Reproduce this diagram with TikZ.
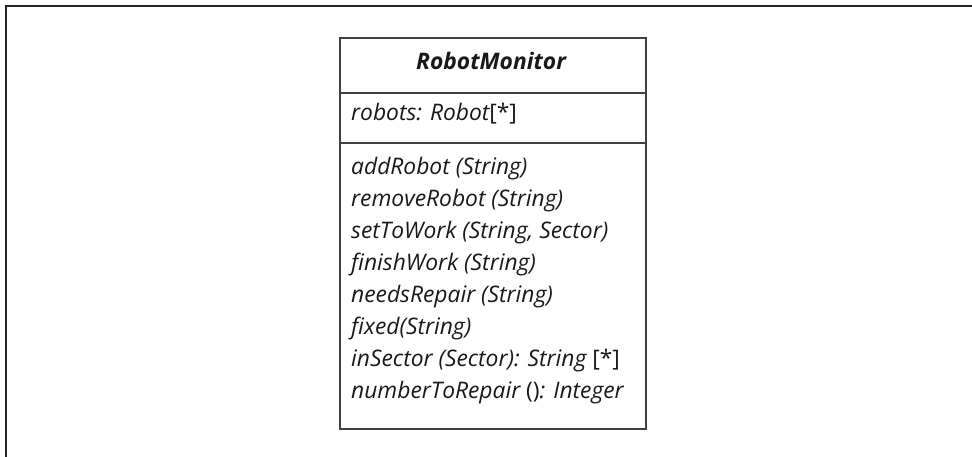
\documentclass[tikz,border=0pt]{standalone}
\usepackage{fontspec}
\setmainfont{Open Sans}
\begin{document}
\begin{tikzpicture}[x=1pt,y=1pt,
  frame/.style={line width=1.5pt,draw=black!85},
  classline/.style={line width=1.3pt,draw=black!75},
  member/.style={anchor=mid west,inner sep=0pt,font=\fontsize{22.8}{26}\selectfont\itshape,text=black!90},
  title/.style={anchor=mid,inner sep=0pt,font=\fontsize{22.8}{26}\selectfont\bfseries\itshape,text=black!90}]
\useasboundingbox (0,0) rectangle (972,-457);
% outer frame (open on the right and bottom)
\draw[frame] (6,-457) -- (6,-6) -- (972,-6);
% class box and compartments
\draw[classline] (340,-38) rectangle (646,-429);
\draw[classline] (340,-93) -- (646,-93);
\draw[classline] (340,-143) -- (646,-143);
% class name
\node[title] (name) at (491,-67) {RobotMonitor};
% attribute
\node[member] (attr) at (351,-118) {robots: Robot\upshape[*]};
% operations
\node[member] (op1) at (351,-172) {addRobot (String)};
\node[member] (op2) at (351,-204) {removeRobot (String)};
\node[member] (op3) at (351,-236) {setToWork (String, Sector)};
\node[member] (op4) at (351,-268) {finishWork (String)};
\node[member] (op5) at (351,-300) {needsRepair (String)};
\node[member] (op6) at (351,-332) {fixed(String)};
\node[member] (op7) at (351,-364) {inSector (Sector): String {\upshape [*]}};
\node[member] (op8) at (351,-396) {numberToRepair {\upshape ()}: Integer};
\end{tikzpicture}
\end{document}
